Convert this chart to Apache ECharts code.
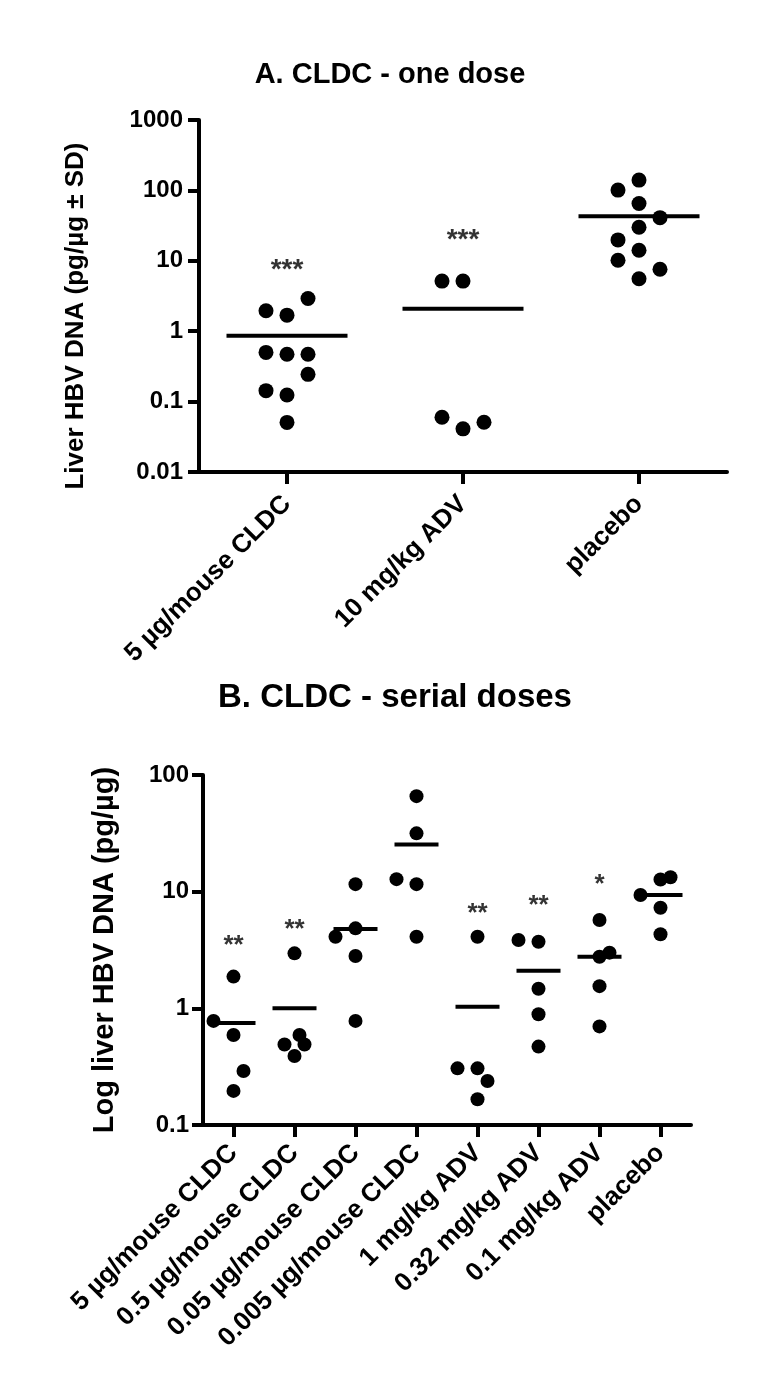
<!DOCTYPE html>
<html>
<head>
<meta charset="utf-8">
<script src="https://cdn.jsdelivr.net/npm/echarts@6/dist/echarts.min.js"></script>
<style>
html,body{margin:0;padding:0;background:#fff;}
#chart{width:768px;height:1400px;}
</style>
</head>
<body>
<div id="chart"></div>
<script>
// ---------- Panel A data ----------
const titleA = 'A. CLDC - one dose';
const yNameA = 'Liver HBV DNA (pg/µg ± SD)';
const catsA = ['5 µg/mouse CLDC', '10 mg/kg ADV', 'placebo'];
const valsA = [
  [1.95, 1.69, 2.92, 0.50, 0.47, 0.47, 0.244, 0.143, 0.124, 0.0506],
  [5.15, 5.15, 0.060, 0.041, 0.051],
  [140, 101, 65, 41, 30, 19.8, 14.1, 10.2, 7.57, 5.57]
];
const slotsA = [
  [-1, 0, 1, -1, 0, 1, 1, -1, 0, 0],
  [-1, 0, -1, 0, 1],
  [0, -1, 0, 1, 0, -1, 0, -1, 1, 0]
];
const meansA = [0.86, 2.08, 43];
const starsA = ['***', '***', ''];
const starValA = [9.6, 25.7, null];
const ticksA = [0.01, 0.1, 1, 10, 100, 1000];

// ---------- Panel B data ----------
const titleB = 'B. CLDC - serial doses';
const yNameB = 'Log liver HBV DNA (pg/µg)';
const catsB = ['5 µg/mouse CLDC', '0.5 µg/mouse CLDC', '0.05 µg/mouse CLDC', '0.005 µg/mouse CLDC',
  '1 mg/kg ADV', '0.32 mg/kg ADV', '0.1 mg/kg ADV', 'placebo'];
const valsB = [
  [0.78, 1.87, 0.59, 0.29, 0.196],
  [2.96, 0.59, 0.49, 0.49, 0.39],
  [11.6, 4.85, 4.11, 2.81, 0.78],
  [65.9, 31.6, 12.8, 11.6, 4.11],
  [4.11, 0.306, 0.306, 0.238, 0.166],
  [3.85, 3.72, 1.47, 0.89, 0.47],
  [5.71, 3.0, 2.77, 1.55, 0.70],
  [9.35, 12.7, 13.3, 7.28, 4.31]
];
const slotsB = [
  [-2, 0, 0, 1, 0],
  [0, 0.5, -1, 1, 0],
  [0, 0, -2, 0, 0],
  [0, 0, -2, 0, 0],
  [0, -2, 0, 1, 0],
  [-2, 0, 0, 0, 0],
  [0, 1, 0, 0, 0],
  [-2, 0, 1, 0, 0]
];
const meansB = [0.75, 1.0, 4.78, 25.4, 1.03, 2.10, 2.77, 9.35];
const starsB = ['**', '**', '', '', '**', '**', '*', ''];
const starValB = [4.0, 5.46, null, null, 7.57, 8.9, 13.3, null];
const ticksB = [0.1, 1, 10, 100];

// ---------- build ----------
const FONT = 'Liberation Sans, Arial, Helvetica, sans-serif';
const slotUnitA = 21 / 176;
const slotUnitB = 10 / 61;

function points(vals, slots, unit) {
  const out = [];
  vals.forEach((g, i) => g.forEach((v, j) => out.push([i + slots[i][j] * unit, v])));
  return out;
}
function starData(stars, pos) {
  const out = [];
  stars.forEach((s, i) => { if (s) out.push({ value: [i, pos[i]], name: s }); });
  return out;
}
function fmtLog(v) {
  return String(Number(v.toPrecision(3)));
}

const chart = echarts.init(document.getElementById('chart'), null, { renderer: 'canvas' });

const blackLine = { color: '#000', width: 4 };
const dotStyle = { color: '#000', opacity: 1 };
const option = {
  backgroundColor: '#fff',
  animation: false,
  textStyle: { fontFamily: FONT, color: '#000' },
  title: [
    { text: titleA, left: 385, top: 55, textAlign: 'center',
      textStyle: { fontFamily: FONT, fontSize: 29, fontWeight: 'bold', color: '#000' } },
    { text: titleB, left: 390, top: 676, textAlign: 'center',
      textStyle: { fontFamily: FONT, fontSize: 33, fontWeight: 'bold', color: '#000' } }
  ],
  grid: [
    { left: 199, top: 120, width: 528, height: 352 },
    { left: 203, top: 775, width: 488, height: 350 }
  ],
  xAxis: [
    { type: 'category', gridIndex: 0, data: catsA, boundaryGap: true,
      axisLine: { onZero: false, lineStyle: blackLine },
      axisTick: { show: true, alignWithLabel: true, length: 12, lineStyle: blackLine },
      axisLabel: { rotate: 45, margin: 28, interval: 0, color: '#000', fontFamily: FONT, fontSize: 26, fontWeight: 'bold' },
      splitLine: { show: false } },
    { type: 'value', gridIndex: 0, min: -0.5, max: 2.5, show: false },
    { type: 'category', gridIndex: 1, data: catsB, boundaryGap: true,
      axisLine: { onZero: false, lineStyle: blackLine },
      axisTick: { show: true, alignWithLabel: true, length: 12, lineStyle: blackLine },
      axisLabel: { rotate: 45, margin: 24, interval: 0, color: '#000', fontFamily: FONT, fontSize: 26, fontWeight: 'bold' },
      splitLine: { show: false } },
    { type: 'value', gridIndex: 1, min: -0.5, max: 7.5, show: false }
  ],
  yAxis: [
    { type: 'log', gridIndex: 0, logBase: 10, min: ticksA[0], max: ticksA[ticksA.length - 1],
      name: yNameA, nameLocation: 'middle', nameGap: 110, nameRotate: 90,
      nameTextStyle: { fontFamily: FONT, fontSize: 26, fontWeight: 'bold', color: '#000', padding: [0, 40, 0, 0] },
      axisLine: { show: true, onZero: false, lineStyle: blackLine },
      axisTick: { show: true, length: 11, lineStyle: blackLine },
      minorTick: { show: false },
      axisLabel: { margin: 16, color: '#000', fontFamily: FONT, fontSize: 24, fontWeight: 'bold', formatter: fmtLog },
      splitLine: { show: false } },
    { type: 'log', gridIndex: 1, logBase: 10, min: ticksB[0], max: ticksB[ticksB.length - 1],
      name: yNameB, nameLocation: 'middle', nameGap: 84, nameRotate: 90,
      nameTextStyle: { fontFamily: FONT, fontSize: 29, fontWeight: 'bold', color: '#000' },
      axisLine: { show: true, onZero: false, lineStyle: blackLine },
      axisTick: { show: true, length: 11, lineStyle: blackLine },
      minorTick: { show: false },
      axisLabel: { margin: 14, color: '#000', fontFamily: FONT, fontSize: 24, fontWeight: 'bold', formatter: fmtLog },
      splitLine: { show: false } }
  ],
  series: [
    { type: 'scatter', xAxisIndex: 1, yAxisIndex: 0, symbol: 'circle', symbolSize: 15,
      itemStyle: dotStyle, data: points(valsA, slotsA, slotUnitA), silent: true },
    { type: 'scatter', xAxisIndex: 1, yAxisIndex: 0, symbol: 'rect', symbolSize: [121, 4],
      itemStyle: dotStyle, data: meansA.map((m, i) => [i, m]), silent: true },
    { type: 'scatter', xAxisIndex: 1, yAxisIndex: 0, symbolSize: 0,
      data: starData(starsA, starValA), silent: true,
      label: { show: true, position: 'inside', formatter: p => p.name, offset: [0, 8],
        color: '#000', fontFamily: FONT, fontSize: 28, fontWeight: 'bold' } },

    { type: 'scatter', xAxisIndex: 3, yAxisIndex: 1, symbol: 'circle', symbolSize: 14,
      itemStyle: dotStyle, data: points(valsB, slotsB, slotUnitB), silent: true },
    { type: 'scatter', xAxisIndex: 3, yAxisIndex: 1, symbol: 'rect', symbolSize: [44, 4],
      itemStyle: dotStyle, data: meansB.map((m, i) => [i, m]), silent: true },
    { type: 'scatter', xAxisIndex: 3, yAxisIndex: 1, symbolSize: 0,
      data: starData(starsB, starValB), silent: true,
      label: { show: true, position: 'inside', formatter: p => p.name, offset: [0, 8],
        color: '#000', fontFamily: FONT, fontSize: 26, fontWeight: 'bold' } }
  ]
};
chart.setOption(option);
</script>
</body>
</html>
